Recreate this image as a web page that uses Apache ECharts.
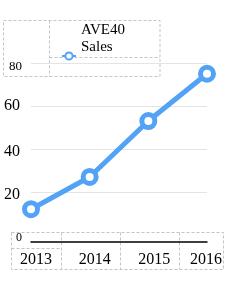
<!DOCTYPE html>
<html>
<head>
<meta charset="utf-8">
<script src="https://cdn.jsdelivr.net/npm/echarts@6/dist/echarts.min.js"></script>
<style>html,body{margin:0;padding:0;background:#fff;}#c{width:248px;height:281px;}</style>
</head>
<body>
<div id="c"></div>
<script>
var categories = ['2013', '2014', '2015', '2016'];
var salesValues = [12, 27, 53, 75];
var seriesName = 'AVE40\nSales';
var yMin = 0, yMax = 80, yStep = 20;

var chart = echarts.init(document.getElementById('c'), null, {renderer: 'canvas'});
var font = '"Liberation Serif", serif';
var blue = '#52a3f6';
var dash = {stroke: '#c4c4c4', lineWidth: 1, lineDash: [3, 2], fill: null};

chart.setOption({
  animation: false,
  backgroundColor: '#fff',
  grid: {left: 31, right: 41, top: 63, bottom: 46},
  legend: {
    left: 61, top: 23, padding: 0,
    itemWidth: 14, itemHeight: 9,
    itemStyle: {color: '#fff', borderColor: blue, borderWidth: 2},
    formatter: function (name) {
      var parts = name.split('\n');
      return '{t|' + parts[0] + '}\n{t|' + parts[1] + '}\n{p| }';
    },
    textStyle: {
      fontFamily: font, fontSize: 15, color: '#000',
      rich: {
        t: {fontFamily: font, fontSize: 15, lineHeight: 17, color: '#000'},
        p: {fontFamily: font, fontSize: 15, lineHeight: 34}
      }
    },
    data: [seriesName]
  },
  xAxis: {
    type: 'category', data: categories, boundaryGap: false, offset: 7,
    axisLine: {onZero: false, lineStyle: {color: '#000', width: 1.5}},
    axisTick: {show: false},
    axisLabel: {
      interval: 0, hideOverlap: false,
      margin: 10, color: '#000', fontFamily: font, fontSize: 16,
      formatter: function (v) { return '{x' + v + '|' + v + '}'; },
      rich: {
        x2013: {fontFamily: font, fontSize: 16, color: '#000', padding: [0, 0, 0, 10]},
        x2014: {fontFamily: font, fontSize: 16, color: '#000', padding: [0, 0, 0, 10]},
        x2015: {fontFamily: font, fontSize: 16, color: '#000', padding: [0, 0, 0, 12]},
        x2016: {fontFamily: font, fontSize: 16, color: '#000', padding: [0, 2, 0, 0]}
      }
    }
  },
  yAxis: {
    type: 'value', min: yMin, max: yMax, interval: yStep,
    axisLine: {show: false}, axisTick: {show: false},
    splitLine: {show: true, showMinLine: false, lineStyle: {color: '#e4e4e4', width: 1}},
    axisLabel: {
      margin: 9, color: '#000', fontFamily: font,
      formatter: function (v) { return '{y' + v + '|' + v + '}'; },
      rich: {
        y0: {fontFamily: font, fontSize: 12, color: '#000', padding: [6, 0, 0, 0]},
        y20: {fontFamily: font, fontSize: 16, color: '#000', padding: [6, 2, 0, 0]},
        y40: {fontFamily: font, fontSize: 16, color: '#000', padding: [5, 2, 0, 0]},
        y60: {fontFamily: font, fontSize: 16, color: '#000', padding: [0, 2, 0, 0]},
        y80: {fontFamily: font, fontSize: 13, color: '#000', padding: [7, 0, 0, 0]}
      }
    }
  },
  series: [{
    name: seriesName, type: 'line', data: salesValues,
    symbol: 'circle', symbolSize: 13,
    lineStyle: {color: blue, width: 5},
    itemStyle: {color: '#fff', borderColor: blue, borderWidth: 5}
  }],
  graphic: [
    {type: 'rect', shape: {x: 3.5, y: 20.5, width: 156.5, height: 56}, style: dash, silent: true},
    {type: 'line', shape: {x1: 49.5, y1: 20.5, x2: 49.5, y2: 76.5}, style: dash, silent: true},
    {type: 'line', shape: {x1: 49.5, y1: 57.5, x2: 160, y2: 57.5}, style: dash, silent: true},
    {type: 'rect', shape: {x: 11.5, y: 232.5, width: 212, height: 37}, style: dash, silent: true},
    {type: 'line', shape: {x1: 61.5, y1: 232.5, x2: 61.5, y2: 269.5}, style: dash, silent: true},
    {type: 'line', shape: {x1: 120.5, y1: 232.5, x2: 120.5, y2: 269.5}, style: dash, silent: true},
    {type: 'line', shape: {x1: 179.5, y1: 232.5, x2: 179.5, y2: 269.5}, style: dash, silent: true},
    {type: 'line', shape: {x1: 11.5, y1: 248.5, x2: 61.5, y2: 248.5}, style: dash, silent: true}
  ]
});
</script>
</body>
</html>
